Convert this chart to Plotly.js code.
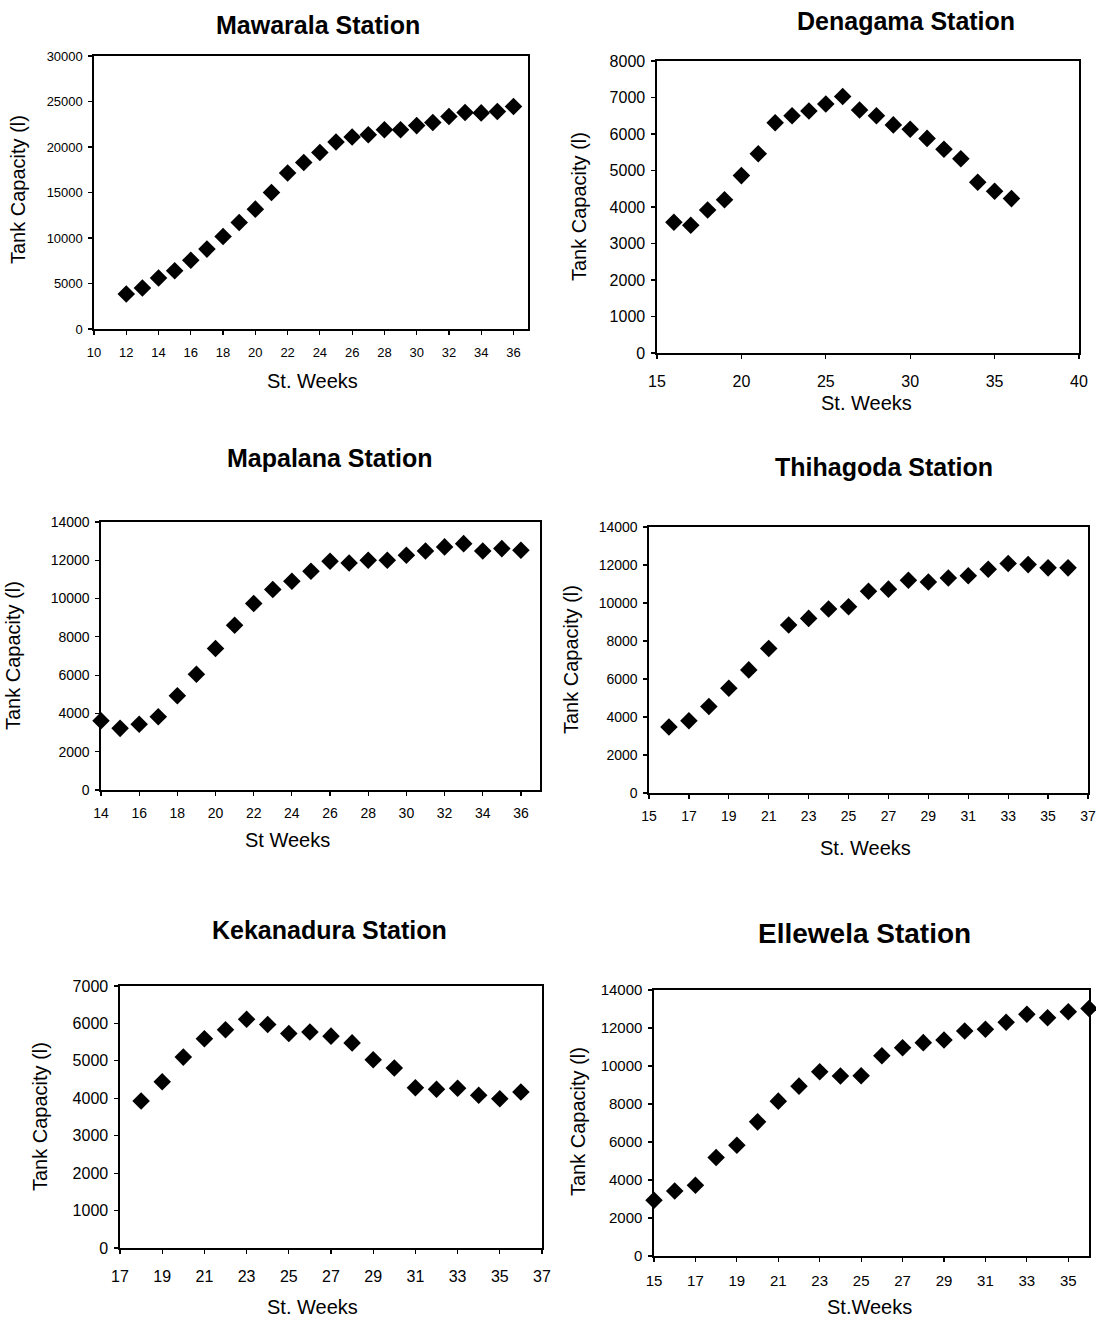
<!DOCTYPE html>
<html>
<head>
<meta charset="utf-8">
<script src="https://cdn.plot.ly/plotly-3.0.1.min.js"></script>
<style>
html,body{margin:0;padding:0;background:#fff;}
#chart{width:1096px;height:1322px;}
</style>
</head>
<body>
<div id="chart"></div>
<script>
// ---- Data ----
const mawaralaWeeks = [12,13,14,15,16,17,18,19,20,21,22,23,24,25,26,27,28,29,30,31,32,33,34,35,36];
const mawaralaTank  = [3850,4500,5600,6400,7550,8780,10170,11700,13170,15000,17150,18300,19400,20550,21100,21350,21900,21900,22350,22700,23350,23800,23750,23900,24450];

const denagamaWeeks = [16,17,18,19,20,21,22,23,24,25,26,27,28,29,30,31,32,33,34,35,36];
const denagamaTank  = [3580,3500,3920,4200,4860,5460,6310,6500,6630,6820,7030,6660,6500,6250,6130,5880,5580,5320,4680,4430,4230];

const mapalanaWeeks = [14,15,16,17,18,19,20,21,22,23,24,25,26,27,28,29,30,31,32,33,34,35,36];
const mapalanaTank  = [3620,3220,3430,3830,4920,6050,7390,8610,9740,10470,10900,11430,11950,11860,12000,12000,12260,12490,12700,12870,12490,12610,12520];

const thihagodaWeeks = [16,17,18,19,20,21,22,23,24,25,26,27,28,29,30,31,32,33,34,35,36];
const thihagodaTank  = [3470,3800,4550,5510,6480,7610,8840,9190,9680,9800,10620,10730,11200,11110,11320,11430,11780,12080,12020,11850,11850];

const kekanaduraWeeks = [18,19,20,21,22,23,24,25,26,27,28,29,30,31,32,33,34,35,36];
const kekanaduraTank  = [3930,4440,5100,5590,5830,6110,5970,5730,5770,5660,5480,5030,4810,4280,4240,4270,4080,3990,4170];

const ellewelaWeeks = [15,16,17,18,19,20,21,22,23,24,25,26,27,28,29,30,31,32,33,34,35,36];
const ellewelaTank  = [2930,3420,3720,5180,5830,7060,8150,8940,9700,9470,9490,10540,10960,11230,11370,11840,11930,12300,12720,12540,12860,13030];

const stationNames = ["Mawarala Station","Denagama Station","Mapalana Station","Thihagoda Station","Kekanadura Station","Ellewela Station"];
const xTitles = ["St. Weeks","St. Weeks","St Weeks","St. Weeks","St. Weeks","St.Weeks"];
const yTitle = "Tank Capacity (l)";

// ---- Layout helpers ----
const W = 1096, H = 1322;
const px = v => v / W;
const py = v => 1 - v / H;

const panels = [
  {x: mawaralaWeeks, y: mawaralaTank, box:[94,528,56,329], xr:[10,36.9], xd:2, x0:10, yr:[0,30000], yd:5000, tf:13, xs:7,
   title:[318,25,25], xt:[312,381], yt:[18,190]},
  {x: denagamaWeeks, y: denagamaTank, box:[657,1079,61,353], xr:[15,40], xd:5, x0:15, yr:[0,8000], yd:1000, tf:16, xs:9,
   title:[906,21,25], xt:[866,403], yt:[579,207]},
  {x: mapalanaWeeks, y: mapalanaTank, box:[101,540,522,790], xr:[14,37], xd:2, x0:14, yr:[0,14000], yd:2000, tf:14, xs:6,
   title:[330,458,25], xt:[287,840], yt:[13,656]},
  {x: thihagodaWeeks, y: thihagodaTank, box:[649,1088,527,793], xr:[15,37], xd:2, x0:15, yr:[0,14000], yd:2000, tf:14, xs:6,
   title:[884,467,25], xt:[865,848], yt:[571,660]},
  {x: kekanaduraWeeks, y: kekanaduraTank, box:[120,542,986,1248], xr:[17,37], xd:2, x0:17, yr:[0,7000], yd:1000, tf:16, xs:9,
   title:[329,930,25], xt:[312,1307], yt:[40,1117]},
  {x: ellewelaWeeks, y: ellewelaTank, box:[654,1089,990,1256], xr:[15,36], xd:2, x0:15, yr:[0,14000], yd:2000, tf:15, xs:6,
   title:[864,933,28], xt:[869,1307], yt:[578,1122]}
];

const FONT = "Liberation Sans, Arial, sans-serif";
const data = [];
const layout = {
  width: W, height: H,
  margin: {l:0, r:0, t:0, b:0},
  paper_bgcolor: "#fff", plot_bgcolor: "#fff",
  showlegend: false,
  font: {family: FONT, color: "#000"},
  annotations: []
};

panels.forEach((p, i) => {
  const n = i + 1;
  const xa = n === 1 ? "xaxis" : "xaxis" + n;
  const ya = n === 1 ? "yaxis" : "yaxis" + n;
  data.push({
    type: "scatter", mode: "markers",
    x: p.x, y: p.y,
    xaxis: "x" + (n === 1 ? "" : n), yaxis: "y" + (n === 1 ? "" : n),
    marker: {symbol: "diamond", size: 13.5, color: "#000", line: {width: 0}},
    cliponaxis: false,
    hoverinfo: "x+y"
  });
  const common = {
    showline: true, linecolor: "#000", linewidth: 1.6, mirror: true,
    ticks: "outside", ticklen: 4, tickwidth: 1.2, tickcolor: "#000",
    showgrid: false, zeroline: false,
    tickformat: "d",
    tickfont: {family: FONT, size: p.tf, color: "#000"},
    fixedrange: true
  };
  layout[xa] = Object.assign({}, common, {
    domain: [px(p.box[0]), px(p.box[1])],
    range: p.xr, tickmode: "linear", tick0: p.x0, dtick: p.xd,
    ticklabelstandoff: p.xs,
    anchor: "y" + (n === 1 ? "" : n)
  });
  layout[ya] = Object.assign({}, common, {
    domain: [py(p.box[3]), py(p.box[2])],
    range: p.yr, tickmode: "linear", tick0: 0, dtick: p.yd,
    ticklabelstandoff: 3,
    anchor: "x" + (n === 1 ? "" : n)
  });
  layout.annotations.push({
    text: "<b>" + stationNames[i] + "</b>", xref: "paper", yref: "paper",
    x: px(p.title[0]), y: py(p.title[1]), xanchor: "center", yanchor: "middle",
    showarrow: false, font: {family: FONT, size: p.title[2], color: "#000"}
  });
  layout.annotations.push({
    text: xTitles[i], xref: "paper", yref: "paper",
    x: px(p.xt[0]), y: py(p.xt[1]), xanchor: "center", yanchor: "middle",
    showarrow: false, font: {family: FONT, size: 20, color: "#000"}
  });
  layout.annotations.push({
    text: yTitle, xref: "paper", yref: "paper", textangle: -90,
    x: px(p.yt[0]), y: py(p.yt[1]), xanchor: "center", yanchor: "middle",
    showarrow: false, font: {family: FONT, size: 20, color: "#000"}
  });
});

Plotly.newPlot("chart", data, layout, {displayModeBar: false, staticPlot: true});
</script>
</body>
</html>
